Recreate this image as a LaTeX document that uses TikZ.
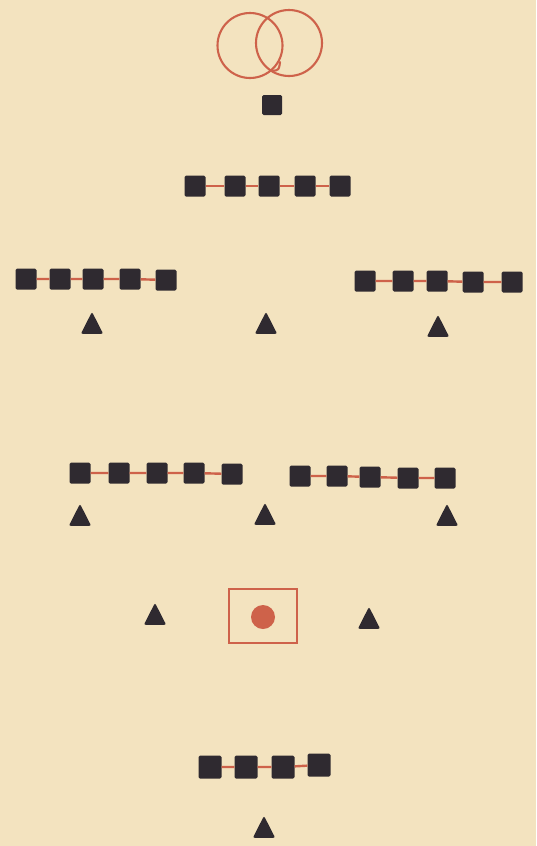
\documentclass[tikz,border=0pt]{standalone}
\usetikzlibrary{shapes.geometric}
\definecolor{paper}{HTML}{F3E3BF}
\definecolor{ink}{HTML}{2F2A30}
\definecolor{vermil}{HTML}{CE624A}
\tikzset{
  sq/.style={rectangle,fill=ink,minimum size=21pt,inner sep=0pt,rounded corners=1.5pt},
  tri/.style={isosceles triangle,isosceles triangle apex angle=54,shape border rotate=90,fill=ink,minimum height=22pt,inner sep=0pt,rounded corners=2pt},
  link/.style={draw=vermil,line width=2.4pt},
  redline/.style={draw=vermil,line width=2.1pt}
}
\begin{document}
\begin{tikzpicture}[x=1pt,y=-1pt]
\fill[paper] (0,0) rectangle (536,846);
\useasboundingbox (0,0) rectangle (536,846);
% interlocking circles
\draw[redline] (250,45.5) circle[radius=32.5];
\draw[redline] (289,43) circle[radius=33];
\coordinate (hookA) at (272,71);
\coordinate (hookB) at (280,62);
\draw[redline,line cap=round] (hookA) .. controls (279,70) .. (hookB);
% single square
\node[sq,minimum size=20pt] (s0) at (272,105) {};
% row 2
\node[sq] (r1) at (195,186) {};
\node[sq] (r2) at (235,186) {};
\node[sq] (r3) at (269,186) {};
\node[sq] (r4) at (305,186) {};
\node[sq] (r5) at (340,186) {};
\draw[link] (r1)--(r2) (r2)--(r3) (r3)--(r4) (r4)--(r5);
% row 3 left
\node[sq] (a1) at (26,279) {};
\node[sq] (a2) at (60,279) {};
\node[sq] (a3) at (93,279) {};
\node[sq] (a4) at (130,279) {};
\node[sq] (a5) at (166,280) {};
\draw[link] (a1)--(a2) (a2)--(a3) (a3)--(a4) (a4)--(a5);
% row 3 right
\node[sq] (b1) at (365,281) {};
\node[sq] (b2) at (403,281) {};
\node[sq] (b3) at (437,281) {};
\node[sq] (b4) at (473,282) {};
\node[sq] (b5) at (512,282) {};
\draw[link] (b1)--(b2) (b2)--(b3) (b3)--(b4) (b4)--(b5);
% triangles row 3
\node[tri] (t1) at (92,327) {};
\node[tri] (t2) at (266,327) {};
\node[tri] (t3) at (438,330) {};
% row 4 left
\node[sq] (c1) at (80,473) {};
\node[sq] (c2) at (119,473) {};
\node[sq] (c3) at (157,473) {};
\node[sq] (c4) at (194,473) {};
\node[sq] (c5) at (232,474) {};
\draw[link] (c1)--(c2) (c2)--(c3) (c3)--(c4) (c4)--(c5);
% row 4 right
\node[sq] (d1) at (300,476) {};
\node[sq] (d2) at (337,476) {};
\node[sq] (d3) at (370,477) {};
\node[sq] (d4) at (408,478) {};
\node[sq] (d5) at (445,478) {};
\draw[link] (d1)--(d2) (d2)--(d3) (d3)--(d4) (d4)--(d5);
% triangles row 4
\node[tri] (t4) at (80,519) {};
\node[tri] (t5) at (265,518) {};
\node[tri] (t6) at (447,519) {};
% box with dot
\node[rectangle,draw=vermil,line width=1.8pt,minimum width=68pt,minimum height=54pt,inner sep=0pt] (box) at (263,616) {};
\node[circle,fill=vermil,minimum size=24pt,inner sep=0pt] (dot) at (263,617) {};
\node[tri] (t7) at (155,618) {};
\node[tri] (t8) at (369,622) {};
% bottom row
\node[sq,minimum size=23pt] (e1) at (210,767) {};
\node[sq,minimum size=23pt] (e2) at (246,767) {};
\node[sq,minimum size=23pt] (e3) at (283,767) {};
\node[sq,minimum size=23pt] (e4) at (319,765) {};
\draw[link] (e1)--(e2) (e2)--(e3) (e3)--(e4);
\node[tri] (t9) at (264,831) {};
\end{tikzpicture}
\end{document}
